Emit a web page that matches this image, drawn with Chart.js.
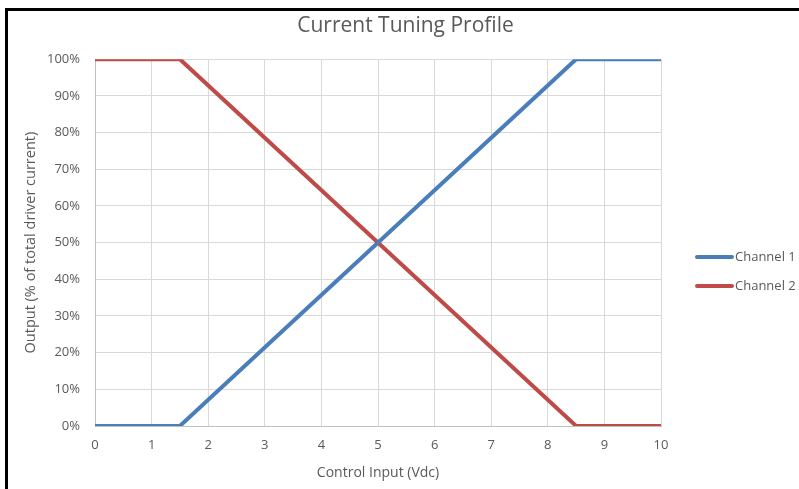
<!DOCTYPE html>
<html>
<head>
<meta charset="utf-8">
<script src="https://cdn.jsdelivr.net/npm/chart.js@4/dist/chart.umd.min.js"></script>
<style>
html,body{margin:0;padding:0;background:#fff;}
#wrap{position:absolute;left:0;top:0;width:799px;height:489px;}
</style>
</head>
<body>
<div id="wrap"><canvas id="c" width="799" height="489"></canvas></div>
<script>
const controlInput = [0, 1.5, 8.5, 10];
const channel1 = [0, 0, 100, 100];
const channel2 = [100, 100, 0, 0];
const seriesNames = ['Channel 1', 'Channel 2'];
const xTicks = [0,1,2,3,4,5,6,7,8,9,10];
const yTicks = [0,10,20,30,40,50,60,70,80,90,100];

const FONT = '"Open Sans", sans-serif';
const GREY = '#595959';

const toPts = (vals) => controlInput.map((x, i) => ({x: x, y: vals[i]}));

const frame = {
  id: 'frame',
  beforeDraw(chart) {
    const ctx = chart.ctx;
    ctx.save();
    ctx.fillStyle = '#fff';
    ctx.fillRect(0, 0, chart.width, chart.height);
    ctx.fillStyle = '#000';
    ctx.fillRect(5, 8, chart.width - 5, 3);
    ctx.fillRect(5, 8, 3, chart.height - 8);
    ctx.restore();
  }
};

const sideLegend = {
  id: 'sideLegend',
  afterDraw(chart) {
    const ctx = chart.ctx;
    ctx.save();
    ctx.font = '13px ' + FONT;
    ctx.textBaseline = 'middle';
    chart.data.datasets.forEach((ds, i) => {
      const y = 257 + i * 29;
      ctx.strokeStyle = ds.borderColor;
      ctx.lineWidth = 4;
      ctx.lineCap = 'round';
      ctx.beginPath();
      ctx.moveTo(697, y);
      ctx.lineTo(732, y);
      ctx.stroke();
      ctx.fillStyle = GREY;
      ctx.fillText(ds.label, 735, y);
    });
    ctx.restore();
  }
};

new Chart(document.getElementById('c'), {
  type: 'line',
  data: {
    datasets: [
      {label: seriesNames[0], data: toPts(channel1), borderColor: '#4a7ebb', backgroundColor: '#4a7ebb', borderWidth: 4, pointRadius: 0, tension: 0},
      {label: seriesNames[1], data: toPts(channel2), borderColor: '#be4b48', backgroundColor: '#be4b48', borderWidth: 4, pointRadius: 0, tension: 0}
    ]
  },
  options: {
    responsive: false,
    animation: false,
    layout: {padding: {left: 12, top: 11, right: 0, bottom: 8}},
    plugins: {
      legend: {display: false},
      tooltip: {enabled: false},
      title: {
        display: true,
        text: 'Current Tuning Profile',
        color: GREY,
        font: {family: FONT, size: 21, weight: 'normal'},
        padding: {top: 2, bottom: 21},
        fullSize: true
      }
    },
    scales: {
      x: {
        type: 'linear',
        min: 0, max: 10,
        afterBuildTicks(scale) { scale.ticks = xTicks.map(v => ({value: v})); },
        afterFit(scale) { scale.height = 55; },
        ticks: {color: GREY, font: {family: FONT, size: 13}, padding: 11, maxRotation: 0},
        grid: {color: '#d9d9d9', lineWidth: 1, drawTicks: false},
        border: {color: '#bfbfbf', width: 1},
        title: {display: true, text: 'Control Input (Vdc)', color: GREY, font: {family: FONT, size: 14}, padding: {top: 1, bottom: 0}}
      },
      y: {
        min: 0, max: 100,
        afterBuildTicks(scale) { scale.ticks = yTicks.map(v => ({value: v})); },
        afterFit(scale) { scale.width = 83; },
        ticks: {color: GREY, font: {family: FONT, size: 13}, padding: 15, callback: v => v + '%'},
        grid: {color: '#d9d9d9', lineWidth: 1, drawTicks: false},
        border: {color: '#bfbfbf', width: 1},
        title: {display: true, text: 'Output (% of total driver current)', color: GREY, font: {family: FONT, size: 14.5}, padding: {top: 10, bottom: 0}}
      },
      legendSpace: {
        position: 'right',
        display: true,
        min: 0, max: 1,
        ticks: {display: false},
        grid: {display: false, drawTicks: false},
        border: {display: false},
        afterFit(scale) { scale.width = 138; }
      }
    }
  },
  plugins: [frame, sideLegend]
});
</script>
</body>
</html>
